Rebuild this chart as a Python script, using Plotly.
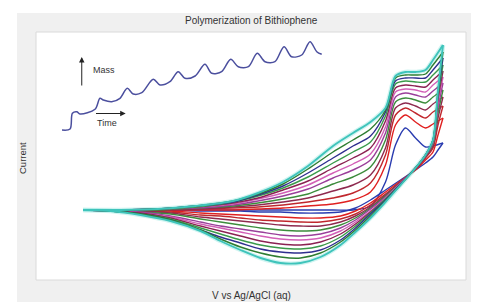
import plotly.graph_objects as go

# ---------------- data ----------------
# Cyclic voltammetry of bithiophene (potential in V, current in arbitrary units)
v_forward = [0.00, 0.15, 0.30, 0.45, 0.60, 0.70, 0.80, 0.90, 1.00, 1.08, 1.15,
             1.21, 1.25, 1.29, 1.33, 1.37, 1.40, 1.44]
v_reverse = [1.44, 1.42, 1.40, 1.37, 1.33, 1.27, 1.21, 1.15, 1.09, 1.03, 0.95,
             0.87, 0.79, 0.71, 0.63, 0.55, 0.47, 0.35, 0.23, 0.11, 0.00]

i_forward = [
    [0, 0, 0, 0, 0, 0, 0, 0, 0, 0, 4, 28, 65, 82, 72, 63, 64, 67],
    [0, 0, 0, 0, 0, 1, 2, 4, 6, 10, 18, 45, 85, 95, 88, 82, 86, 92],
    [0, 0, 0, 1, 2, 3, 5, 8, 12, 17, 27, 55, 95, 102, 97, 92, 98, 104],
    [0, 0, 0, 1, 3, 5, 8, 12, 19, 25, 35, 62, 102, 107, 104, 100, 106, 113],
    [0, 0, 0, 2, 4, 7, 11, 16, 26, 33, 43, 70, 108, 112, 110, 107, 113, 120],
    [0, 0, 1, 2, 5, 9, 14, 21, 32, 40, 50, 77, 113, 117, 115, 113, 119, 127],
    [0, 0, 1, 3, 6, 11, 17, 25, 37, 46, 56, 83, 118, 121, 120, 118, 125, 133],
    [0, 0, 1, 3, 7, 12, 20, 29, 42, 52, 62, 89, 122, 125, 124, 123, 130, 139],
    [0, 0, 1, 3, 8, 14, 22, 33, 47, 58, 68, 94, 126, 129, 128, 128, 135, 145],
    [0, 0, 1, 4, 8, 15, 24, 37, 52, 64, 74, 98, 129, 132, 132, 132, 140, 152],
    [0, 0, 1, 4, 9, 16, 26, 41, 58, 70, 81, 100, 132, 135, 135, 136, 145, 158],
    [0, 0, 1, 4, 9, 17, 28, 44, 64, 77, 88, 102, 134, 138, 138, 140, 150, 165],
]
i_reverse = [
    [67, 60, 53, 47, 40, 30, 20, 10, 2, -2, -3, -3, -2, -2, -1, -1, -1, 0, 0, 0, 0],
    [92, 75, 58, 50, 40, 29, 18, 7, -1, -6, -8, -8, -7, -6, -5, -4, -3, -1, 0, 0, 0],
    [104, 85, 62, 52, 41, 28, 16, 5, -4, -9, -12, -12, -11, -10, -8, -6, -5, -2, -1, 0, 0],
    [113, 92, 64, 53, 41, 28, 15, 3, -6, -12, -16, -16, -15, -13, -11, -9, -7, -3, -1, 0, 0],
    [120, 97, 66, 54, 42, 27, 14, 2, -8, -15, -20, -21, -20, -18, -15, -12, -9, -4, -2, 0, 0],
    [127, 102, 67, 54, 42, 27, 13, 1, -10, -18, -24, -26, -25, -22, -19, -16, -12, -6, -2, -1, 0],
    [133, 107, 68, 55, 42, 27, 12, -1, -12, -21, -28, -30, -29, -26, -22, -18, -14, -7, -3, -1, 0],
    [139, 111, 69, 55, 42, 26, 11, -2, -14, -24, -32, -35, -34, -31, -26, -21, -16, -8, -3, -1, 0],
    [145, 114, 69, 55, 42, 26, 11, -3, -16, -27, -36, -39, -38, -35, -30, -24, -18, -9, -4, -1, 0],
    [152, 117, 70, 55, 42, 26, 10, -4, -18, -30, -40, -43, -42, -39, -33, -27, -20, -10, -4, -1, 0],
    [158, 119, 70, 55, 42, 25, 9, -6, -20, -32, -43, -48, -47, -43, -37, -29, -20, -10, -4, -1, 0],
    [165, 120, 70, 55, 42, 25, 8, -8, -22, -35, -47, -53, -53, -48, -40, -31, -21, -11, -5, -1, 0],
]
cycle_colors = ["#2a3cb0", "#e02020", "#c0272d", "#8e2a4f", "#3c8c3c", "#9a3f9a",
                "#d35fb7", "#8b2252", "#3a9a4a", "#2f2f8f", "#2e7d32", "#3fc4bb"]

# Inset: electrode mass vs time (EQCM)
time_inset = [0.00, 0.31, 0.40, 0.57, 0.69, 1.27, 1.46, 1.59, 1.91, 2.23, 2.51, 2.74,
              3.07, 3.51, 3.77, 4.15, 4.47, 4.73, 5.12, 5.50, 5.76, 6.14, 6.49, 6.78,
              7.17, 7.51, 7.81, 8.19, 8.54, 8.83, 9.22, 9.54, 9.80, 9.99]
mass_inset = [0.00, 0.10, 1.67, 1.83, 1.60, 2.07, 3.17, 3.00, 2.83, 3.17, 4.17, 3.60,
              3.73, 5.07, 4.50, 4.83, 5.83, 5.17, 5.40, 6.57, 5.67, 5.83, 7.07, 6.33,
              6.33, 7.67, 6.83, 6.83, 8.33, 7.33, 7.50, 8.83, 7.83, 7.57]

title_text = "Polymerization of Bithiophene"
x_title = "V vs Ag/AgCl (aq)"
y_title = "Current"

# ---------------- figure ----------------
FONT = "Liberation Sans, Arial, sans-serif"
fig = go.Figure()

# soft glow under the outermost cycle
for seg_x, seg_y in ((v_forward, i_forward[-1]), (v_reverse, i_reverse[-1])):
    fig.add_trace(go.Scatter(x=seg_x, y=seg_y, mode="lines",
                             line=dict(color="rgba(150,230,225,0.45)", width=4.5, shape="spline", smoothing=0.8),
                             hoverinfo="skip", showlegend=False))

for k, col in enumerate(cycle_colors):
    w = 1.9 if k == len(cycle_colors) - 1 else 1.4
    for seg_x, seg_y in ((v_forward, i_forward[k]), (v_reverse, i_reverse[k])):
        fig.add_trace(go.Scatter(x=seg_x, y=seg_y, mode="lines",
                                 line=dict(color=col, width=w, shape="spline", smoothing=0.8),
                                 showlegend=False))

fig.add_trace(go.Scatter(x=time_inset, y=mass_inset, mode="lines",
                         line=dict(color="#4b4f9e", width=1.5, shape="spline", smoothing=0.9),
                         xaxis="x2", yaxis="y2", showlegend=False))

# page body adds an 8px margin, so the figure is 8px smaller and everything shifts by 8
OFF = 8
W, H = 480 - OFF, 307 - OFF
L, T = 36 - OFF, 32 - OFF
R = W - (466 - OFF)
B = H - (280 - OFF)
pw, ph = W - L - R, H - T - B

def px2fx(px):
    return (px - OFF - L) / pw

def py2fy(py):
    return (H - B - (py - OFF)) / ph

fig.update_layout(
    width=W, height=H,
    margin=dict(l=L, r=R, t=T, b=B, pad=0),
    paper_bgcolor="white", plot_bgcolor="white",
    xaxis=dict(range=[-0.188, 1.532], visible=False, fixedrange=True),
    yaxis=dict(range=[-70, 178], visible=False, fixedrange=True),
    xaxis2=dict(range=[-1.0, 15.54], overlaying="x", anchor="y2", visible=False),
    yaxis2=dict(range=[-15, 9.8], overlaying="y", anchor="x2", visible=False),
    shapes=[
        dict(type="rect", xref="paper", yref="paper", layer="below",
             x0=px2fx(17), x1=px2fx(471), y0=py2fy(302), y1=py2fy(13),
             fillcolor="#f0f0f0", line=dict(width=0)),
        dict(type="rect", xref="paper", yref="paper", layer="below",
             x0=0, x1=1, y0=0, y1=1,
             fillcolor="white", line=dict(color="#dadada", width=1)),
    ],
    annotations=[
        dict(text=title_text, xref="paper", yref="paper", x=0.5, y=py2fy(21),
             xanchor="center", yanchor="middle", showarrow=False,
             font=dict(family=FONT, size=10, color="#333333")),
        dict(text=x_title, xref="paper", yref="paper", x=0.5, y=py2fy(295.5),
             xanchor="center", yanchor="middle", showarrow=False,
             font=dict(family=FONT, size=10, color="#333333")),
        dict(text=y_title, xref="paper", yref="paper", x=px2fx(22), y=py2fy(158),
             xanchor="center", yanchor="middle", showarrow=False, textangle=-90,
             font=dict(family=FONT, size=9.5, color="#333333")),
        # inset arrows and labels
        dict(xref="x2", yref="y2", axref="x2", ayref="y2",
             x=0.76, y=7.3, ax=0.76, ay=4.3, text="", showarrow=True,
             arrowhead=2, arrowsize=1.1, arrowwidth=1, arrowcolor="#222222"),
        dict(xref="x2", yref="y2", axref="x2", ayref="y2",
             x=2.45, y=1.65, ax=1.25, ay=1.65, text="", showarrow=True,
             arrowhead=2, arrowsize=1.1, arrowwidth=1, arrowcolor="#222222"),
        dict(text="Mass", xref="x2", yref="y2", x=1.1, y=6.0, xanchor="left",
             yanchor="middle", showarrow=False,
             font=dict(family=FONT, size=9, color="#333333")),
        dict(text="Time", xref="x2", yref="y2", x=1.27, y=0.7, xanchor="left",
             yanchor="middle", showarrow=False,
             font=dict(family=FONT, size=9, color="#333333")),
    ],
)

fig.write_html("out.html")
